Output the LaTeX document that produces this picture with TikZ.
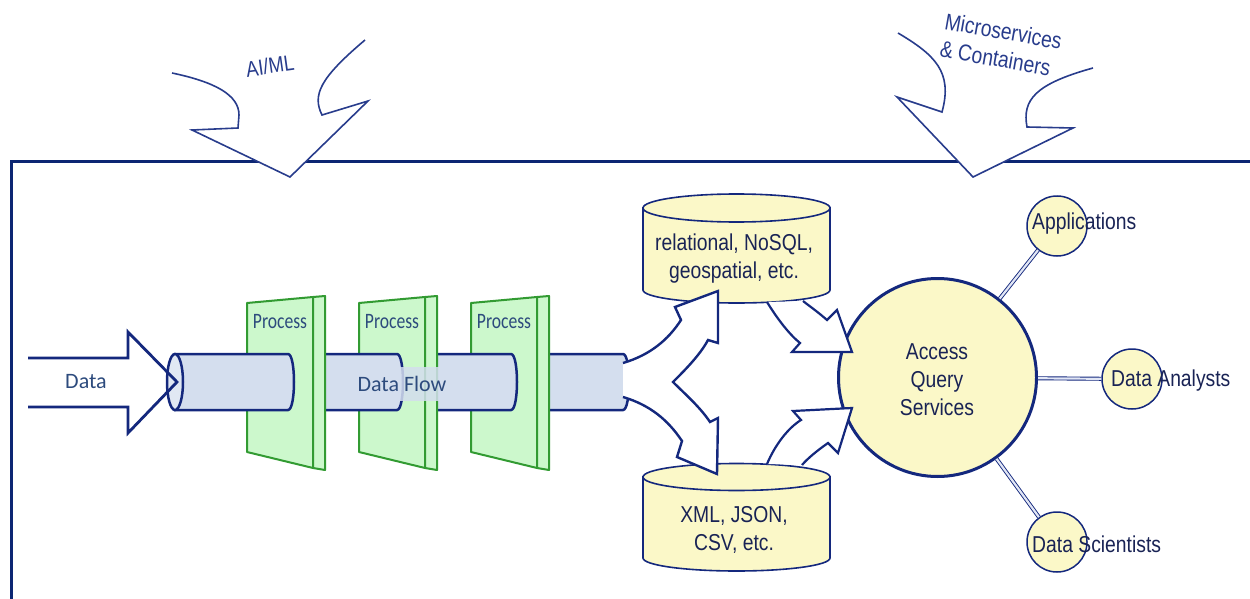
\documentclass[tikz,border=0pt]{standalone}
\usepackage{fontspec}
\newfontfamily\narrowsans{Liberation Sans}[FakeStretch=0.84]
\newfontfamily\calibfont{Carlito}
\newfontfamily\calibnarrow{Carlito}[FakeStretch=0.8]

\definecolor{navy}{RGB}{20,40,125}
\definecolor{framenavy}{RGB}{12,38,115}
\definecolor{arrowblue}{RGB}{40,60,140}
\definecolor{pipefill}{RGB}{212,222,238}
\definecolor{platefill}{RGB}{204,248,204}
\definecolor{plategreen}{RGB}{50,155,50}
\definecolor{storefill}{RGB}{251,248,200}
\definecolor{textdark}{RGB}{25,35,85}
\definecolor{textslate}{RGB}{45,75,125}
\definecolor{linkfill}{RGB}{225,230,245}

\tikzset{
  frameline/.style={draw=framenavy, line width=3},
  thinarrow/.style={draw=arrowblue, line width=1.6, line join=miter},
  blockarrow/.style={draw=navy, line width=2.4, line join=miter},
  pipebody/.style={draw=navy, line width=2.5, fill=pipefill},
  plateface/.style={draw=plategreen, line width=2, fill=platefill, line join=round},
  store/.style={draw=navy, line width=1.6, fill=storefill},
  hub/.style={circle, draw=navy, line width=3, fill=storefill, minimum size=198, inner sep=0},
  user/.style={circle, draw=navy, line width=1.5, fill=storefill, minimum size=60, inner sep=0},
  dbl/.style={draw=navy, line width=0.9, double=linkfill, double distance=2.2},
  sanslabel/.style={font=\narrowsans\fontsize{23}{28}\selectfont, text=textdark, inner sep=0, align=center},
  caliblabel/.style={font=\calibfont\fontsize{22}{26}\selectfont, text=textslate, inner sep=0},
  proclabel/.style={font=\calibnarrow\fontsize{22}{26}\selectfont, text=textslate, inner sep=0},
}

\begin{document}
\begin{tikzpicture}[x=1pt,y=-1pt]
\useasboundingbox (0,0) rectangle (1250,599);

% enclosing frame
\draw[frameline] (11,599) -- (11,161) -- (1250,161);

% incoming influence arrows
\fill[white] (172,73) .. controls (215,82) and (239,95) .. (239,115) -- (238,128)
  -- (192,130) -- (290,177) -- (368,101) -- (322,115)
  .. controls (312,95) and (320,78) .. (365,40) -- cycle;
\draw[thinarrow] (172,73) .. controls (215,82) and (239,95) .. (239,115) -- (238,128)
  -- (192,130) -- (290,177) -- (368,101) -- (322,115)
  .. controls (312,95) and (320,78) .. (365,40);
\node[sanslabel, font=\narrowsans\fontsize{22}{26}\selectfont, text=arrowblue, rotate=8] (aiml) at (270,66) {AI/ML};

\fill[white] (898,33) .. controls (935,55) and (953,72) .. (942,112) -- (897,97)
  -- (973,177) -- (1073,128) -- (1027,127)
  .. controls (1022,100) and (1035,84) .. (1093,68) -- cycle;
\draw[thinarrow] (898,33) .. controls (935,55) and (953,72) .. (942,112) -- (897,97)
  -- (973,177) -- (1073,128) -- (1027,127)
  .. controls (1022,100) and (1035,84) .. (1093,68);
\node[sanslabel, align=left, text=arrowblue, rotate=-10] (micro) at (1001,45) {Microservices\\\& Containers};

% data pipe running through the process stages (back to front)
\path[pipebody] (540,354) -- (623,354) .. controls (631,354) and (631,410) .. (623,410) -- (540,410) -- cycle;
\path[plateface] (471,303) -- (537,297) -- (537,468) -- (471,452) -- cycle;
\path[plateface] (537,297) -- (549,296) -- (549,470) -- (537,468) -- cycle;
\node[proclabel] (proc3) at (504,322) {Process};

\path[pipebody] (428,354) -- (511,354) .. controls (519,354) and (519,410) .. (511,410) -- (428,410) -- cycle;
\path[plateface] (359,303) -- (425,297) -- (425,468) -- (359,452) -- cycle;
\path[plateface] (425,297) -- (437,296) -- (437,470) -- (425,468) -- cycle;
\node[proclabel] (proc2) at (392,322) {Process};

\path[pipebody] (316,354) -- (397,354) .. controls (405,354) and (405,410) .. (397,410) -- (316,410) -- cycle;
\path[plateface] (247,303) -- (313,297) -- (313,468) -- (247,452) -- cycle;
\path[plateface] (313,297) -- (325,296) -- (325,470) -- (313,468) -- cycle;
\node[proclabel] (proc1) at (280,322) {Process};

\path[pipebody] (175,354) -- (288,354) .. controls (296,354) and (296,410) .. (288,410) -- (175,410) -- cycle;
\draw[navy, line width=2.5, fill=pipefill!70!white] (175,382) ellipse [x radius=8, y radius=28];

\node[caliblabel, fill=pipefill, fill opacity=0.85, text opacity=1,
      minimum width=110, minimum height=34] (flow) at (402,384) {Data Flow};

% incoming data arrow
\draw[blockarrow, line width=2.8] (28,358) -- (128,358) -- (128,332) -- (177,382)
  -- (128,433) -- (128,407) -- (28,407);
\node[caliblabel] (data) at (86,382) {Data};

% data stores
\path[store] (643,208) -- (643,290) .. controls (643,297.2) and (684.9,303) .. (736.5,303)
  .. controls (788.1,303) and (830,297.2) .. (830,290) -- (830,208) -- cycle;
\draw[store] (736.5,208) ellipse [x radius=93.5, y radius=14];
\node[sanslabel] (sql) at (734,259) {relational, NoSQL,\\geospatial, etc.};

\path[store] (643,477) -- (643,558) .. controls (643,565.2) and (684.9,571) .. (736.5,571)
  .. controls (788.1,571) and (830,565.2) .. (830,558) -- (830,477) -- cycle;
\draw[store] (736.5,477) ellipse [x radius=93.5, y radius=13.5];
\node[sanslabel] (files) at (734,530) {XML, JSON,\\CSV, etc.};

% fork from the pipe into both stores
\filldraw[blockarrow, fill=white] (623,363) .. controls (650,355) and (668,340) .. (681,320)
  -- (675,307) -- (718,291) -- (718,343) -- (708,340)
  .. controls (700,355) and (685,370) .. (673,382)
  .. controls (685,394) and (700,407) .. (710,422) -- (718,418) -- (717,474)
  -- (677,457) -- (682,441) .. controls (668,420) and (650,405) .. (623,397);

% access and query hub with its consumers
\node[hub] (aqs) at (937.5,377.5) {};
\node[sanslabel] (aqstext) at (937,380) {Access\\Query\\Services};

\node[user] (app) at (1057,226) {};
\node[user] (ana) at (1132,379) {};
\node[user] (sci) at (1057,542) {};
\draw[dbl] (aqs) -- (app);
\draw[dbl] (aqs) -- (ana);
\draw[dbl] (aqs) -- (sci);
\node[sanslabel, anchor=west] (apptext) at (1032,224) {Applications};
\node[sanslabel, anchor=west] (anatext) at (1111,381) {Data Analysts};
\node[sanslabel, anchor=west] (scitext) at (1032,544) {Data Scientists};

% stores feeding the hub
\filldraw[blockarrow, line width=2.2, fill=white] (767,302) .. controls (778,320) and (790,335) .. (800,343)
  -- (792,352) -- (852,352) -- (837,310) -- (827,320)
  .. controls (818,312) and (808,305) .. (803,301);
\filldraw[blockarrow, line width=2.2, fill=white] (767,464) .. controls (775,445) and (788,428) .. (801,420)
  -- (793,411) -- (852,408) -- (838,453) -- (828,443)
  .. controls (818,450) and (808,458) .. (802,465);
\end{tikzpicture}
\end{document}
